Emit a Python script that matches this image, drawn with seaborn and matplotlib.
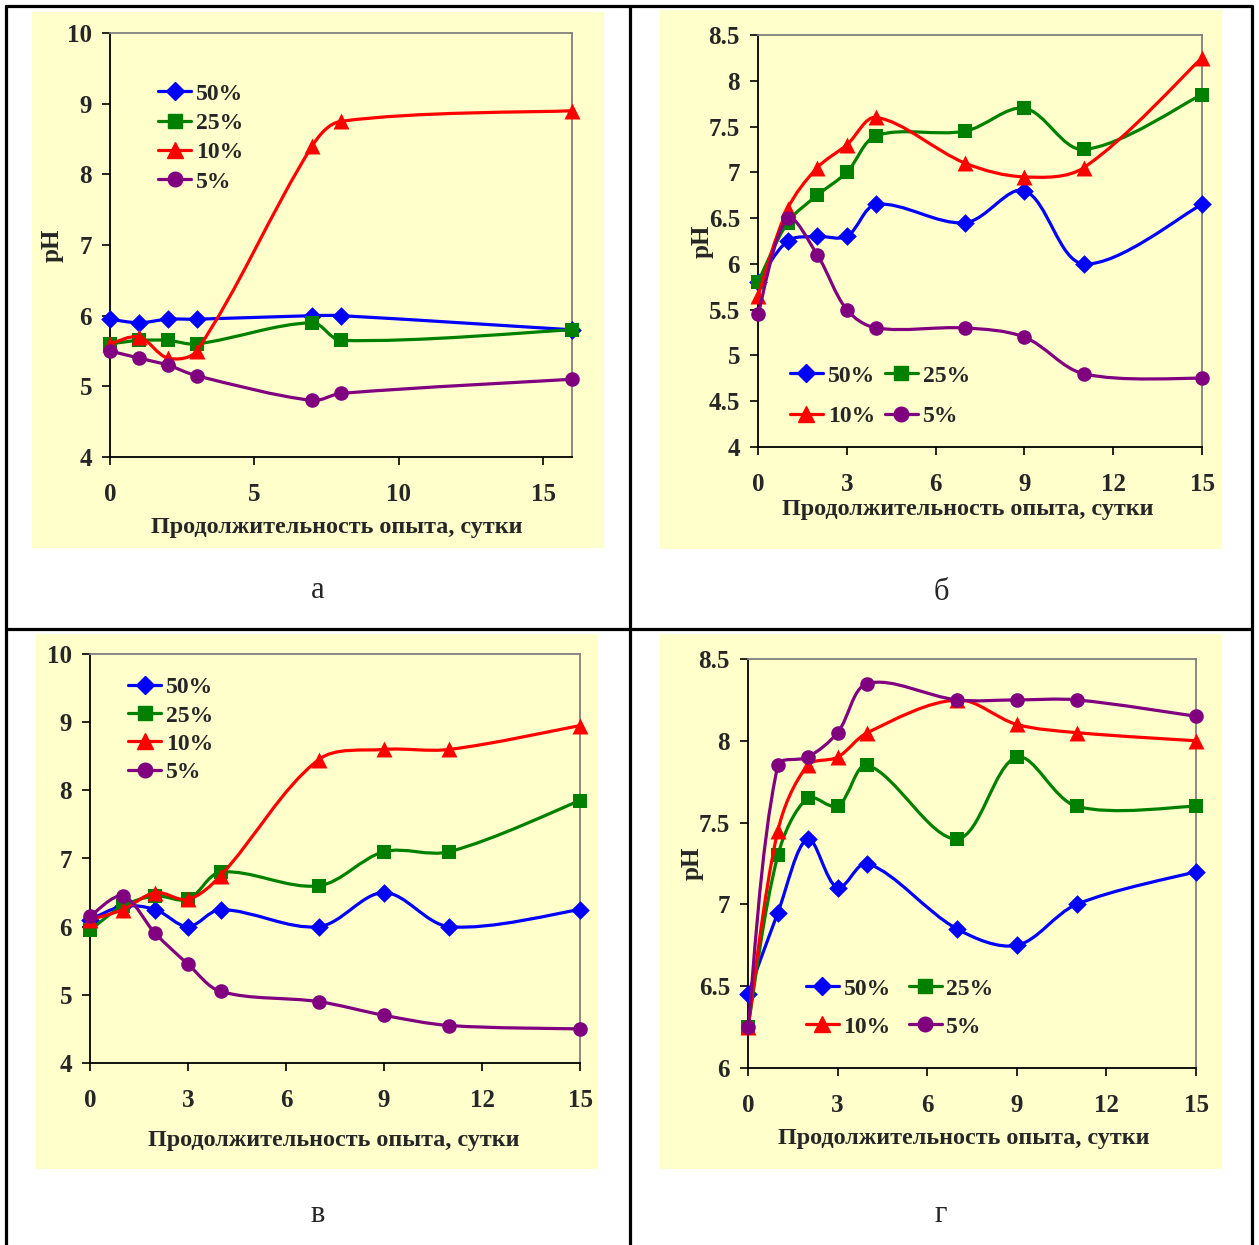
import numpy as np
import pandas as pd
import matplotlib
matplotlib.use("Agg")
import matplotlib.pyplot as plt
import seaborn as sns
from matplotlib.path import Path
from matplotlib.patches import PathPatch, Rectangle
from matplotlib.lines import Line2D
from matplotlib.ticker import FuncFormatter

# --- данные (pH по суткам) ---
labels = ["50%", "25%", "10%", "5%"]

days_a = [0, 1, 2, 3, 7, 8, 16]
a_50 = [5.95, 5.9, 5.95, 5.95, 6.0, 6.0, 5.8]
a_25 = [5.6, 5.65, 5.65, 5.6, 5.9, 5.65, 5.8]
a_10 = [5.6, 5.7, 5.4, 5.5, 8.4, 8.75, 8.9]
a_5 = [5.5, 5.4, 5.3, 5.15, 4.8, 4.9, 5.1]

days = [0, 1, 2, 3, 4, 7, 9, 11, 15]
b_50 = [5.8, 6.25, 6.3, 6.3, 6.65, 6.45, 6.8, 6.0, 6.65]
b_25 = [5.8, 6.45, 6.75, 7.0, 7.4, 7.45, 7.7, 7.25, 7.85]
b_10 = [5.65, 6.6, 7.05, 7.3, 7.6, 7.1, 6.95, 7.05, 8.25]
b_5 = [5.45, 6.5, 6.1, 5.5, 5.3, 5.3, 5.2, 4.8, 4.75]

v_50 = [6.1, 6.3, 6.25, 6.0, 6.25, 6.0, 6.5, 6.0, 6.25]
v_25 = [5.95, 6.3, 6.45, 6.4, 6.8, 6.6, 7.1, 7.1, 7.85]
v_10 = [6.1, 6.25, 6.5, 6.4, 6.75, 8.45, 8.6, 8.6, 8.95]
v_5 = [6.15, 6.45, 5.9, 5.45, 5.05, 4.9, 4.7, 4.55, 4.5]

g_50 = [6.45, 6.95, 7.4, 7.1, 7.25, 6.85, 6.75, 7.0, 7.2]
g_25 = [6.25, 7.3, 7.65, 7.6, 7.85, 7.4, 7.9, 7.6, 7.6]
g_10 = [6.25, 7.45, 7.85, 7.9, 8.05, 8.25, 8.1, 8.05, 8.0]
g_5 = [6.25, 7.85, 7.9, 8.05, 8.35, 8.25, 8.25, 8.25, 8.15]

colors = ["#0000FF", "#008000", "#FF0000", "#800080"]
markers = ["D", "s", "^", "o"]
msizes = [9.5, 10.5, 11.5, 10.5]

sns.set_style("white")
plt.rcParams["font.family"] = ["Liberation Serif", "DejaVu Serif"]
plt.rcParams["font.weight"] = "bold"

W, H = 1259, 1245
fig = plt.figure(figsize=(W / 100, H / 100), dpi=100)


def px_rect(x0, y0, x1, y1):
    return [x0 / W, 1 - y1 / H, (x1 - x0) / W, (y1 - y0) / H]


def smooth_path(ax, x, y):
    # сглаженная линия (Безье), считается в экранных координатах
    p = ax.transData.transform(np.column_stack([x, y]).astype(float))
    n = len(p)
    d = [np.hypot(*(p[i + 1] - p[i])) for i in range(n - 1)]

    def ctrl(i, seg):
        # смещение контрольной точки у узла i для отрезка seg
        if i == 0 or i == n - 1:
            j0, j1 = max(i - 1, 0), min(i + 1, n - 1)
            return (p[j1] - p[j0]) / 6
        w = d[seg] / (d[i - 1] + d[i])
        return (p[i + 1] - p[i - 1]) * w / 3

    verts = [p[0]]
    codes = [Path.MOVETO]
    for i in range(n - 1):
        c1 = p[i] + ctrl(i, i)
        c2 = p[i + 1] - ctrl(i + 1, i)
        verts += [c1, c2, p[i + 1]]
        codes += [Path.CURVE4] * 3
    verts = ax.transData.inverted().transform(np.array(verts))
    return Path(verts, codes)


# жёлтые подложки диаграмм
for (x0, y0, x1, y1) in [(32, 12, 604, 548), (660, 10, 1222, 549),
                         (36, 634, 598, 1169), (660, 634, 1222, 1169)]:
    fig.patches.append(Rectangle((x0 / W, 1 - y1 / H), (x1 - x0) / W, (y1 - y0) / H,
                                 transform=fig.transFigure, facecolor="#FFFFCC",
                                 edgecolor="none", zorder=-5))

# линии таблицы
for xs, ys in [([6, 6], [6, H]), ([1252, 1252], [6, H]), ([630, 630], [6, H]),
               ([6, 1252], [6, 6]), ([6, 1252], [629, 629])]:
    fig.add_artist(Line2D([x / W for x in xs], [1 - y / H for y in ys],
                          transform=fig.transFigure, color="black", lw=2.3))

panels = [
    dict(rect=(110, 33, 572, 457), x=days_a, ys=[a_50, a_25, a_10, a_5],
         xlim=(0, 16), xt=[0, 5, 10, 15], ylim=(4, 10), yt=np.arange(4, 10.01, 1),
         ylab=True, ncol=1, leg=(0.104, 0.882), lsp=0.33, cs=0.5,
         xlab=(0.49, -0.142), cap=("а", 318, 591)),
    dict(rect=(758, 35, 1202, 447), x=days, ys=[b_50, b_25, b_10, b_5],
         xlim=(0, 15), xt=[0, 3, 6, 9, 12, 15], ylim=(4, 8.5), yt=np.arange(4, 8.51, 0.5),
         ylab=True, ncol=2, leg=(0.072, 0.199), lsp=0.8, cs=0.42,
         xlab=(0.473, -0.125), cap=("б", 941, 592)),
    dict(rect=(90, 654, 580, 1063), x=days, ys=[v_50, v_25, v_10, v_5],
         xlim=(0, 15), xt=[0, 3, 6, 9, 12, 15], ylim=(4, 10), yt=np.arange(4, 10.01, 1),
         ylab=False, ncol=1, leg=(0.078, 0.944), lsp=0.28, cs=0.5,
         xlab=(0.497, -0.165), cap=("в", 318, 1215)),
    dict(rect=(748, 659, 1196, 1068), x=days, ys=[g_50, g_25, g_10, g_5],
         xlim=(0, 15), xt=[0, 3, 6, 9, 12, 15], ylim=(6, 8.5), yt=np.arange(6, 8.51, 0.5),
         ylab=True, ncol=2, leg=(0.129, 0.22), lsp=0.7, cs=0.75,
         xlab=(0.482, -0.147), cap=("г", 941, 1215)),
]

for p in panels:
    ax = fig.add_axes(px_rect(*p["rect"]))
    ax.patch.set_alpha(0)
    ax.set_xlim(*p["xlim"])
    ax.set_ylim(*p["ylim"])
    for i, vals in enumerate(p["ys"]):
        ax.add_patch(PathPatch(smooth_path(ax, p["x"], vals), facecolor="none",
                               edgecolor=colors[i], lw=2.3, zorder=2 + 2 * i))
        sns.scatterplot(x=p["x"], y=vals, marker=markers[i], color=colors[i],
                        s=msizes[i] ** 2, linewidth=0, zorder=3 + 2 * i,
                        clip_on=False, ax=ax)
    ax.set_xlim(*p["xlim"])
    ax.set_ylim(*p["ylim"])
    ax.set_xticks(p["xt"])
    ax.set_yticks(p["yt"])
    ax.yaxis.set_major_formatter(FuncFormatter(lambda v, pos: "%g" % v))
    ax.tick_params(axis="both", direction="out", length=6, width=1.2,
                   labelsize=18, color="black", left=True, bottom=True)
    ax.tick_params(axis="x", pad=13)
    ax.tick_params(axis="y", pad=7)
    for s in ["left", "bottom"]:
        ax.spines[s].set_color("black")
        ax.spines[s].set_linewidth(1.3)
    for s in ["top", "right"]:
        ax.spines[s].set_color("#808080")
        ax.spines[s].set_linewidth(1.3)

    ax.set_xlabel("Продолжительность опыта, сутки", fontsize=17.4, fontweight="bold")
    ax.xaxis.set_label_coords(*p["xlab"])
    if p["ylab"]:
        ax.set_ylabel("pH", fontsize=18, fontweight="bold")
        ax.yaxis.set_label_coords(-0.1, 0.5)
    else:
        ax.set_ylabel("")

    handles = [Line2D([], [], color=colors[i], lw=2.3, marker=markers[i],
                      markersize=msizes[i], label=labels[i]) for i in range(4)]
    if p["ncol"] == 2:
        handles = [handles[0], handles[2], handles[1], handles[3]]
    ax.legend(handles=handles, loc="upper left", bbox_to_anchor=p["leg"],
              ncol=p["ncol"], frameon=False, borderpad=0, borderaxespad=0,
              handlelength=1.4, handletextpad=0.2, columnspacing=p["cs"],
              labelspacing=p["lsp"], prop={"size": 17, "weight": "bold"})

    cap, cx, cy = p["cap"]
    fig.text(cx / W, 1 - cy / H, cap, ha="center", va="center", fontsize=22,
             fontweight="normal", family=["Liberation Serif", "DejaVu Serif"])

fig.savefig("out.png", dpi=100)
